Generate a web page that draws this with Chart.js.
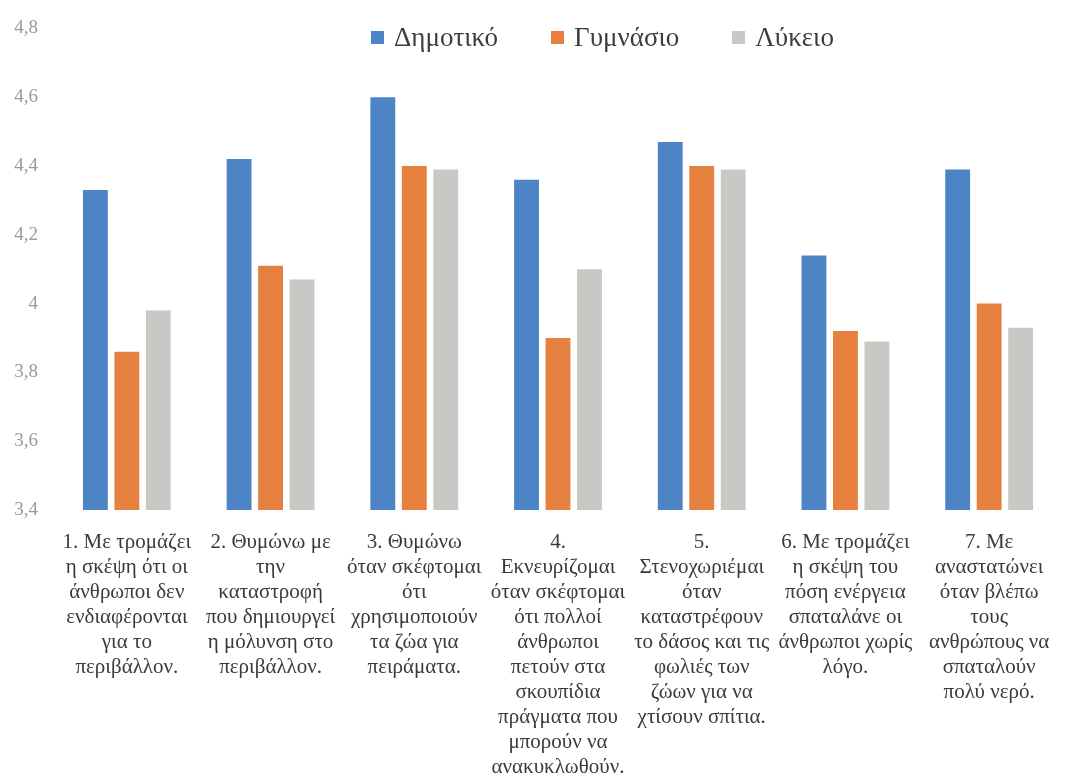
<!DOCTYPE html>
<html lang="el">
<head>
<meta charset="utf-8">
<title>Δημοτικό / Γυμνάσιο / Λύκειο</title>
<script src="https://cdn.jsdelivr.net/npm/chart.js@4/dist/chart.umd.min.js"></script>
<style>
  html, body { margin: 0; padding: 0; background: #ffffff; }
  .wrap { position: relative; width: 1070px; height: 779px; }
  #chart { display: block; }
  .legend {
    position: absolute; top: 22px; left: 371px;
    display: flex; align-items: center; gap: 53px;
    font-family: 'Liberation Serif', 'DejaVu Serif', serif;
    font-size: 27px; color: #3d3d3d;
  }
  .legend-item { display: flex; align-items: center; gap: 10px; }
  .legend-swatch { width: 13px; height: 13px; }
</style>
</head>
<body>
<div class="wrap">
  <canvas id="chart" width="1070" height="779"></canvas>
  <div class="legend" id="legend"></div>
</div>
<script>
// ─────────────────────────────────────────────────────────────
// DATA
// ─────────────────────────────────────────────────────────────
const categories = [
  ['1. Με τρομάζει', 'η σκέψη ότι οι', 'άνθρωποι δεν', 'ενδιαφέρονται', 'για το', 'περιβάλλον.'],
  ['2. Θυμώνω με', 'την', 'καταστροφή', 'που δημιουργεί', 'η μόλυνση στο', 'περιβάλλον.'],
  ['3. Θυμώνω', 'όταν σκέφτομαι', 'ότι', 'χρησιμοποιούν', 'τα ζώα για', 'πειράματα.'],
  ['4.', 'Εκνευρίζομαι', 'όταν σκέφτομαι', 'ότι πολλοί', 'άνθρωποι', 'πετούν στα', 'σκουπίδια', 'πράγματα που', 'μπορούν να', 'ανακυκλωθούν.'],
  ['5.', 'Στενοχωριέμαι', 'όταν', 'καταστρέφουν', 'το δάσος και τις', 'φωλιές των', 'ζώων για να', 'χτίσουν σπίτια.'],
  ['6. Με τρομάζει', 'η σκέψη του', 'πόση ενέργεια', 'σπαταλάνε οι', 'άνθρωποι χωρίς', 'λόγο.'],
  ['7. Με', 'αναστατώνει', 'όταν βλέπω', 'τους', 'ανθρώπους να', 'σπαταλούν', 'πολύ νερό.'],
];

const seriesNames = ['Δημοτικό', 'Γυμνάσιο', 'Λύκειο'];

const dimotiko  = [4.33, 4.42, 4.60, 4.36, 4.47, 4.14, 4.39];
const gymnasio  = [3.86, 4.11, 4.40, 3.90, 4.40, 3.92, 4.00];
const lykeio    = [3.98, 4.07, 4.39, 4.10, 4.39, 3.89, 3.93];

const yTickLabels = ['3,4', '3,6', '3,8', '4', '4,2', '4,4', '4,6', '4,8'];

// ─────────────────────────────────────────────────────────────
// STYLE
// ─────────────────────────────────────────────────────────────
const COLORS = ['#4c84c6', '#e5803e', '#c6c9c4'];
const SERIF = "'Liberation Serif', 'DejaVu Serif', serif";

// ─────────────────────────────────────────────────────────────
// LEGEND (html, sits over the plot like the original)
// ─────────────────────────────────────────────────────────────
function renderLegend() {
  const box = document.getElementById('legend');
  seriesNames.forEach((name, i) => {
    const item = document.createElement('div');
    item.className = 'legend-item';
    const sw = document.createElement('span');
    sw.className = 'legend-swatch';
    sw.style.background = COLORS[i];
    const txt = document.createElement('span');
    txt.textContent = name;
    item.appendChild(sw);
    item.appendChild(txt);
    box.appendChild(item);
  });
}

// ─────────────────────────────────────────────────────────────
// CHART
// ─────────────────────────────────────────────────────────────
function renderChart() {
  const values = [dimotiko, gymnasio, lykeio];
  const datasets = seriesNames.map((name, i) => ({
    label: name,
    data: values[i],
    backgroundColor: COLORS[i],
    borderWidth: 0,
    categoryPercentage: 0.657,
    barPercentage: 0.79,
  }));

  new Chart(document.getElementById('chart'), {
    type: 'bar',
    data: { labels: categories, datasets },
    options: {
      responsive: false,
      animation: false,
      layout: { padding: { top: 24, right: 9, bottom: 0, left: 14 } },
      plugins: {
        legend: { display: false },
        tooltip: { enabled: false },
      },
      scales: {
        x: {
          grid: { display: false, drawTicks: false },
          border: { display: false },
          afterFit: (scale) => { scale.height = 269; },
          ticks: {
            color: '#3a3a3a',
            font: { family: SERIF, size: 21, lineHeight: '25px' },
            padding: 20,
            maxRotation: 0,
            minRotation: 0,
            autoSkip: false,
          },
        },
        y: {
          min: 3.4,
          max: 4.8,
          grid: { display: false, drawTicks: false },
          border: { display: false },
          afterFit: (scale) => { scale.width = 41; },
          ticks: {
            stepSize: 0.2,
            color: '#9a9a9a',
            font: { family: SERIF, size: 19 },
            padding: 17,
            callback: (value, index) => yTickLabels[index],
          },
        },
      },
    },
  });
}

renderLegend();
renderChart();
</script>
</body>
</html>
